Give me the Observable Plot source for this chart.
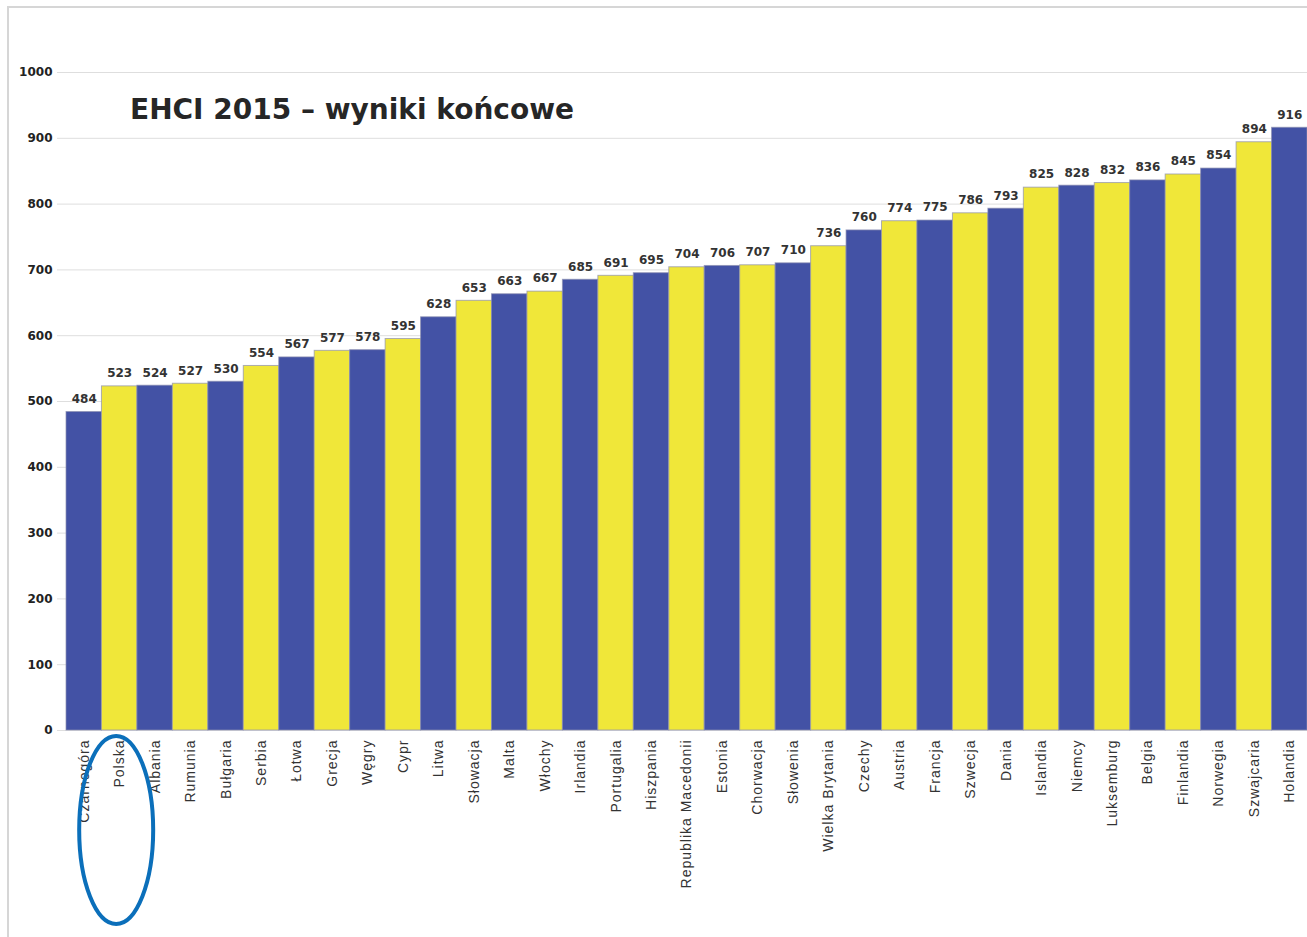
<!DOCTYPE html>
<html>
<head>
<meta charset="utf-8">
<script src="https://cdn.jsdelivr.net/npm/d3@7"></script>
<script src="https://cdn.jsdelivr.net/npm/@observablehq/plot@0.6"></script>
<style>
  html, body { margin: 0; padding: 0; background: #fff; }
  #wrap { position: relative; width: 1307px; height: 937px; overflow: hidden; }
  #frame { position: absolute; left: 7px; top: 6px; width: 1400px; height: 1000px;
           border-top: 2px solid #d6d6d6; border-left: 2px solid #d6d6d6; box-sizing: border-box; }
  #title { position: absolute; left: 130px; top: 93px; font-family: "DejaVu Sans", sans-serif;
           font-weight: bold; font-size: 28px; color: #262626; letter-spacing: 0px; }
  svg { position: absolute; left: 0; top: 0; }
  g[aria-label="x-axis tick label"] text { letter-spacing: 1px; }
</style>
</head>
<body>
<div id="wrap">
  <div id="frame"></div>
</div>
<script>
const countries = ["Czarnogóra","Polska","Albania","Rumunia","Bułgaria","Serbia","Łotwa","Grecja","Węgry","Cypr","Litwa","Słowacja","Malta","Włochy","Irlandia","Portugalia","Hiszpania","Republika Macedonii","Estonia","Chorwacja","Słowenia","Wielka Brytania","Czechy","Austria","Francja","Szwecja","Dania","Islandia","Niemcy","Luksemburg","Belgia","Finlandia","Norwegia","Szwajcaria","Holandia"];
const scores = [484,523,524,527,530,554,567,577,578,595,628,653,663,667,685,691,695,704,706,707,710,736,760,774,775,786,793,825,828,832,836,845,854,894,916];
const yTicks = [0,100,200,300,400,500,600,700,800,900,1000];
const palette = ["#4352A5", "#F0E739"];
const highlighted = "Polska";

const data = countries.map((c, i) => ({country: c, score: scores[i], color: palette[i % 2]}));

const plot = Plot.plot({
  width: 1307,
  height: 937,
  marginLeft: 57,
  marginRight: 0,
  marginTop: 72,
  marginBottom: 207,
  x: {domain: countries, range: [66, 1307], padding: 0, round: false, label: null},
  y: {domain: [0, 1000], ticks: yTicks, label: null},
  style: {fontFamily: "Liberation Sans, sans-serif", background: "transparent"},
  marks: [
    Plot.ruleY(yTicks, {stroke: "#dedede", strokeWidth: 1}),
    Plot.barY(data, {x: "country", y: "score", fill: "color", stroke: "#8c8fb0", strokeWidth: 1, strokeOpacity: 0.7, inset: 0}),
    Plot.text(data, {x: "country", y: "score", text: d => String(d.score), dy: -13,
      fontWeight: "bold", fontSize: 12, fill: "#333", fontFamily: "DejaVu Sans, sans-serif"}),
    Plot.axisY({ticks: yTicks, tickFormat: d => String(d), tickSize: 0, tickPadding: 5, fontWeight: "bold", fontSize: 12,
      fontFamily: "DejaVu Sans, sans-serif", fill: "#222", label: null}),
    Plot.axisX({tickSize: 0, tickPadding: 9, tickRotate: -90, fontSize: 14,
      fontFamily: "Liberation Sans, sans-serif", fill: "#333", label: null})
  ]
});

const wrap = document.getElementById("wrap");
wrap.appendChild(plot);

// annotation ellipse around highlighted country label
const xs = plot.scale("x");
const cx = xs.apply(highlighted) + xs.bandwidth / 2 - 3;
const ns = "http://www.w3.org/2000/svg";
const ell = document.createElementNS(ns, "ellipse");
ell.setAttribute("cx", cx);
ell.setAttribute("cy", 830);
ell.setAttribute("rx", 37);
ell.setAttribute("ry", 94);
ell.setAttribute("fill", "none");
ell.setAttribute("stroke", "#0B6FBA");
ell.setAttribute("stroke-width", 4);
plot.appendChild(ell);

const title = document.createElement("div");
title.id = "title";
title.textContent = "EHCI 2015 – wyniki końcowe";
wrap.appendChild(title);
</script>
</body>
</html>
